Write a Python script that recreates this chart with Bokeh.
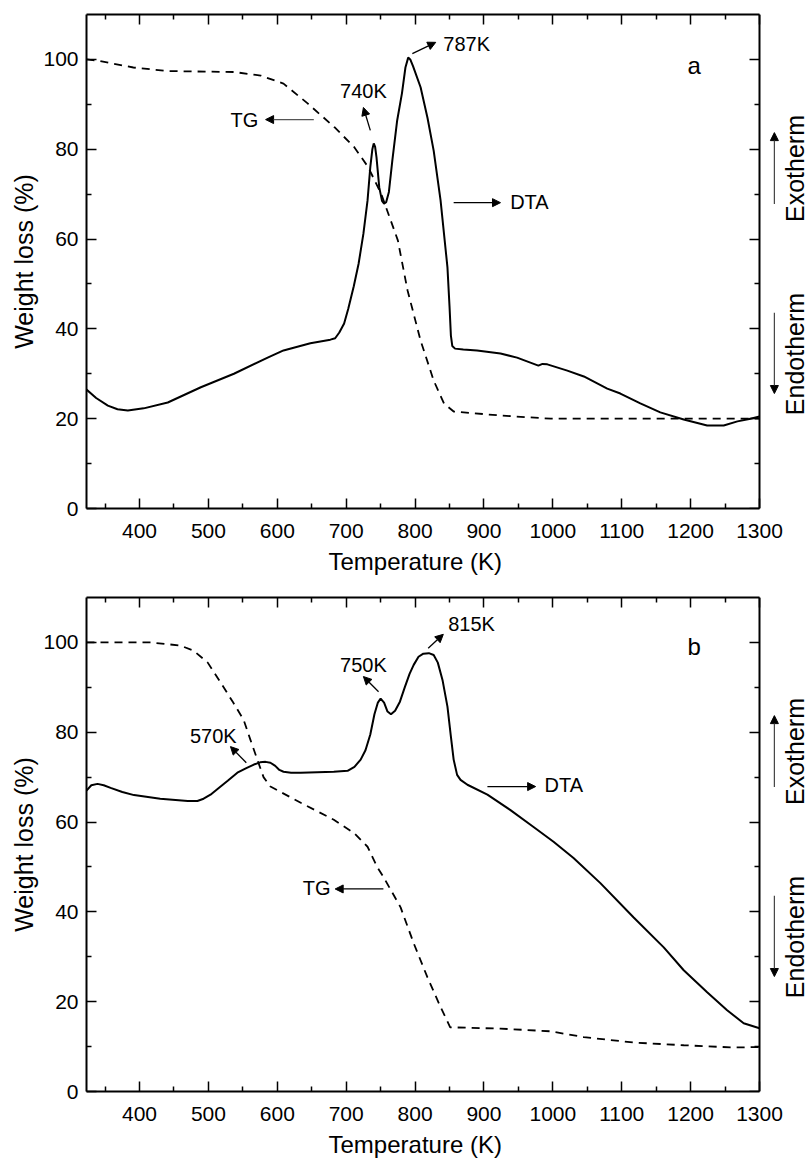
import math
from bokeh.plotting import figure
from bokeh.models import (Range1d, LinearAxis, Arrow, NormalHead, Label, Title,
                          FixedTicker, CustomJSTickFormatter)
from bokeh.layouts import column
from bokeh.embed import file_html
from bokeh.resources import INLINE

# ---------------- data ----------------
x_ticks = [400, 500, 600, 700, 800, 900, 1000, 1100, 1200, 1300]
x_minor = [350, 450, 550, 650, 750, 850, 950, 1050, 1150, 1250]
y_ticks = [0, 20, 40, 60, 80, 100]
y_minor = [10, 30, 50, 70, 90]

# panel a : TG (dashed)
a_tg_T = [323, 343, 391, 441, 537, 576, 609, 644, 683, 712, 732, 751, 775,
          789, 808, 827, 842, 856, 924, 997, 1078, 1262, 1300]
a_tg_W = [100, 99.6, 98.2, 97.4, 97.2, 96.4, 94.6, 90.2, 84.9, 80.4, 76.0, 70.0, 59.7,
          48.6, 37.4, 28.5, 23.4, 21.6, 20.7, 20.0, 20.0, 20.0, 20.0]

# panel a : DTA (solid)
a_dta_T = [323, 337, 354, 368, 383, 406, 441, 489, 537, 586, 609, 648, 677, 684, 690, 697,
           703, 711, 718, 725, 731, 735, 738, 740, 742, 744, 748, 752, 755, 758, 762,
           767, 774, 781, 786, 790, 793, 797, 808, 818, 827, 837, 847, 850, 852, 854,
           858, 870, 890, 924, 948, 979, 985, 992, 1021, 1045, 1079, 1098, 1127, 1156,
           1190, 1224, 1248, 1268, 1287, 1300]
a_dta_W = [26.5, 24.6, 22.9, 22.1, 21.8, 22.3, 23.6, 27.0, 30.0, 33.6, 35.2, 36.8, 37.6, 37.9, 39.2, 41.2,
           44.5, 49.5, 54.5, 61.2, 68.6, 76.0, 80.0, 81.3, 80.5, 78.2, 71.5, 68.5, 67.9, 68.2, 70.5,
           77.5, 86.4, 92.5, 98.2, 100.4, 100.0, 98.5, 93.8, 87.0, 79.7, 68.6, 53.7, 45.0, 38.5, 36.2,
           35.6, 35.4, 35.2, 34.5, 33.6, 31.8, 32.2, 32.1, 30.7, 29.4, 26.7, 25.6, 23.4, 21.4,
           19.8, 18.5, 18.5, 19.4, 20.0, 20.5]

# panel b : TG (dashed)
b_tg_T = [323, 416, 459, 478, 499, 518, 536, 551, 561, 571, 580, 590, 634, 682,
          711, 731, 745, 754, 779, 798, 818, 837, 851, 924, 997, 1045, 1117, 1190,
          1262, 1300]
b_tg_W = [100, 100, 99.3, 98.2, 95.5, 91.0, 86.6, 82.8, 78.3, 73.9, 70.0, 67.9, 64.3, 60.5,
          57.6, 54.5, 50.0, 47.8, 41.0, 33.0, 25.4, 18.8, 14.3, 14.0, 13.4, 12.1, 10.9, 10.3,
          9.8, 9.9]

# panel b : DTA (solid)
b_dta_T = [323, 330, 339, 348, 358, 375, 392, 430, 470, 484, 493, 503, 515, 528, 542, 555,
           566, 575, 583, 590, 597, 603, 609, 620, 634, 682, 702, 712, 721, 728, 735, 741,
           746, 750, 755, 760, 765, 771, 778, 785, 792, 798, 805, 812, 820, 827, 833,
           840, 847, 852, 856, 861, 866, 876, 905, 938, 972, 1001, 1030, 1069, 1117,
           1161, 1190, 1224, 1253, 1277, 1300]
b_dta_W = [67.0, 68.2, 68.5, 68.2, 67.6, 66.7, 66.0, 65.2, 64.7, 64.7, 65.2, 66.1, 67.6, 69.2, 71.0, 72.0,
           72.8, 73.3, 73.4, 73.2, 72.5, 71.6, 71.2, 71.0, 71.0, 71.2, 71.4, 72.3, 73.9, 76.0, 79.5, 84.0,
           86.6, 87.5, 86.6, 84.6, 84.0, 84.8, 86.8, 90.0, 93.0, 95.0, 96.8, 97.5, 97.6, 97.2, 95.5,
           91.5, 85.7, 79.0, 73.9, 70.5, 69.4, 68.3, 66.1, 62.7, 58.9, 55.6, 52.0, 46.4, 38.8,
           32.1, 27.0, 22.1, 18.1, 15.2, 14.1]

# ---------------- layout / styling ----------------
FONT = "Liberation Sans"
TICK_FS = "21px"
TITLE_FS = "24px"
ANN_FS = "20px"
W = 809
LEFT = 86
BOX_RIGHT_PX = 759          # where the 1300 K border sits
XTITLE_LEFT_PX = 328        # left edge of the x-axis title
T0, T1 = 323, 1300
SCALE = (BOX_RIGHT_PX - LEFT) / (T1 - T0)
X_END = T0 + (W - LEFT) / SCALE   # frame reaches the canvas edge; box closed at 1300 K


def add_label(p, x, y, text, size=ANN_FS, align="left", baseline="middle", angle=0.0):
    p.add_layout(Label(x=x, y=y, text=text, text_font=FONT, text_font_size=size,
                       text_align=align, text_baseline=baseline, angle=angle,
                       text_color="black"))


def add_arrow(p, x0, y0, x1, y1, color="black", width=1.3):
    p.add_layout(Arrow(end=NormalHead(size=8, fill_color="black", line_color="black",
                                      line_width=1),
                       x_start=x0, y_start=y0, x_end=x1, y_end=y1,
                       line_color=color, line_width=width))


def make_panel(tg_T, tg_W, dta_T, dta_W, top, bottom):
    p = figure(width=W, height=581, output_backend="svg", toolbar_location=None,
               x_range=Range1d(T0, X_END), y_range=Range1d(0, 110),
               min_border_left=LEFT, min_border_right=0,
               min_border_top=top, min_border_bottom=bottom,
               background_fill_color="white", border_fill_color="white")
    p.grid.visible = False
    p.outline_line_color = None

    bottom_ax = p.below[0]
    left_ax = p.left[0]
    top_ax = LinearAxis()
    right_ax = LinearAxis(fixed_location=T1)
    p.add_layout(top_ax, "above")
    p.add_layout(right_ax, "right")

    for ax in [bottom_ax, top_ax]:
        ax.ticker = FixedTicker(ticks=x_ticks, minor_ticks=x_minor)
        ax.bounds = (T0, T1)
    for ax in [left_ax, right_ax]:
        ax.ticker = FixedTicker(ticks=y_ticks, minor_ticks=y_minor)

    for ax in [bottom_ax, left_ax, top_ax, right_ax]:
        ax.axis_line_width = 2
        ax.axis_line_color = "black"
        ax.major_tick_in = 10
        ax.major_tick_out = 0
        ax.minor_tick_in = 5
        ax.minor_tick_out = 0
        ax.major_tick_line_width = 1.5
        ax.minor_tick_line_width = 1.5
        ax.major_label_text_font = FONT
        ax.major_label_text_font_size = TICK_FS
        ax.major_label_text_color = "black"
        ax.axis_label_text_font = FONT
        ax.axis_label_text_font_style = "normal"
        ax.axis_label_text_color = "black"

    for ax in [top_ax, right_ax]:
        ax.formatter = CustomJSTickFormatter(code="return ''")
        ax.major_label_standoff = 0

    bottom_ax.major_label_standoff = 15

    # x title as a left-aligned Title so that it is centred under the box, not the frame
    p.add_layout(Title(text="Temperature (K)", align="left", offset=XTITLE_LEFT_PX - LEFT,
                       text_font=FONT, text_font_size=TITLE_FS, text_font_style="normal",
                       text_color="black"), "below")

    left_ax.axis_label = "Weight loss (%)"
    left_ax.axis_label_text_font_size = "25px"
    left_ax.major_label_standoff = 8
    left_ax.axis_label_standoff = 2

    p.line(tg_T, tg_W, line_color="black", line_width=1.8, line_dash="8 6")
    p.line(dta_T, dta_W, line_color="black", line_width=2)

    # Exotherm / Endotherm markers to the right of the box
    add_label(p, 1352, 75.7, "Exotherm", size="25px", align="center", angle=math.pi / 2)
    add_label(p, 1352, 34.4, "Endotherm", size="25px", align="center", angle=math.pi / 2)
    add_arrow(p, 1321.6, 67.8, 1321.6, 83.7, color="#444444", width=1.2)
    add_arrow(p, 1321.6, 43.6, 1321.6, 25.6, color="#444444", width=1.2)
    return p


pa = make_panel(a_tg_T, a_tg_W, a_dta_T, a_dta_W, top=14, bottom=73)
add_label(pa, 725, 93, "740K", align="center")
add_arrow(pa, 735, 84.2, 725, 89.3)
add_label(pa, 532, 86.4, "TG")
add_arrow(pa, 653, 86.6, 583, 86.6, color="#555555")
add_label(pa, 841, 103.4, "787K")
add_arrow(pa, 796, 101.3, 830, 103.8)
add_label(pa, 938, 68.2, "DTA")
add_arrow(pa, 856, 68.1, 924, 68.1)
add_label(pa, 1205, 98.7, "a", size="24px", align="center", baseline="alphabetic")

pb = make_panel(b_tg_T, b_tg_W, b_dta_T, b_dta_W, top=16, bottom=71)
add_label(pb, 848, 104, "815K")
add_arrow(pb, 819, 98.7, 841, 101.8)
add_label(pb, 725, 95, "750K", align="center")
add_arrow(pb, 747, 89, 725, 92.4)
add_label(pb, 507, 79.2, "570K", align="center")
add_arrow(pb, 555, 73.2, 532, 76.8)
add_label(pb, 637, 45.3, "TG")
add_arrow(pb, 754, 45.1, 684, 45.1)
add_label(pb, 988, 68.3, "DTA")
add_arrow(pb, 905, 67.9, 975, 67.9)
add_label(pb, 1205, 99.1, "b", size="24px", align="center", baseline="alphabetic")

layout = column(pa, pb, spacing=0)
open("out.html", "w").write(file_html(layout, INLINE))
